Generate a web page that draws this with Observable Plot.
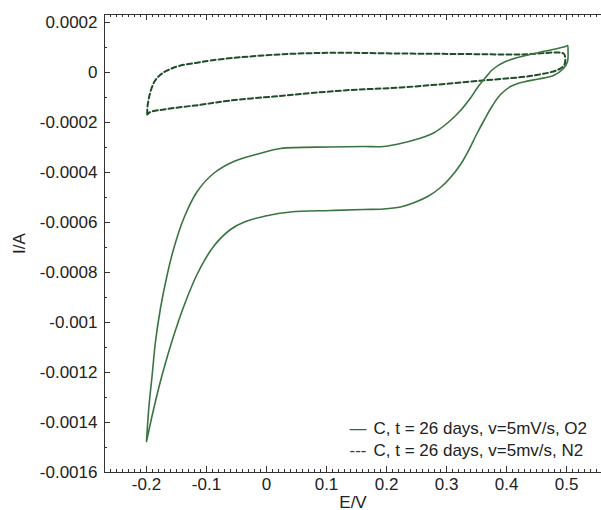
<!DOCTYPE html>
<html><head><meta charset="utf-8">
<script src="https://cdn.jsdelivr.net/npm/d3@7"></script>
<script src="https://cdn.jsdelivr.net/npm/@observablehq/plot@0.6"></script>
<style>body{margin:0;background:#fff}</style>
</head><body><div id="chart"></div>
<script>
// O2 cyclic voltammogram (solid)
const O2_E = [-0.2, -0.1962, -0.1905, -0.185, -0.1767, -0.1655, -0.1545, -0.1378, -0.1155, -0.0878, -0.0545, -0.01, 0.0233, 0.1067, 0.1617, 0.195, 0.2233, 0.2517, 0.2783, 0.3017, 0.3233, 0.34, 0.3517, 0.365, 0.3767, 0.3983, 0.4317, 0.465, 0.4983, 0.5017,
  0.5025, 0.5017, 0.495,
  0.4783, 0.4533, 0.4283, 0.4067, 0.39, 0.3767, 0.3633, 0.35, 0.3367, 0.3233, 0.3067, 0.29, 0.27, 0.2467, 0.2233, 0.195, 0.1617, 0.1067, 0.04, -0.0017, -0.035, -0.06, -0.0883, -0.115, -0.1367, -0.1567, -0.1733, -0.1875, -0.2];
const O2_I = [-0.001476, -0.001343, -0.001209, -0.001076, -0.000943, -0.000809, -0.000703, -0.000583, -0.000476, -0.000403, -0.000356, -0.000323, -0.000304, -0.000298, -0.000296, -0.000296, -0.000284, -0.000266, -0.000242, -0.000202, -0.000152, -0.000102, -0.00006, -0.00002, 0.000012, 0.000044, 0.000068, 0.000086, 0.000104, 0.000108,
  0.000084, 0.000044, 0.000016,
  -0.000012, -0.000026, -0.000038, -0.000056, -0.000088, -0.000132, -0.000188, -0.000248, -0.000312, -0.000368, -0.00042, -0.00046, -0.000494, -0.00052, -0.000538, -0.000546, -0.000548, -0.000552, -0.000558, -0.000574, -0.000596, -0.000628, -0.000696, -0.000804, -0.000928, -0.001068, -0.001204, -0.00134, -0.001476];
// N2 cyclic voltammogram (dashed)
const N2_E = [-0.1988, -0.1983, -0.1958, -0.1917, -0.1867, -0.18, -0.1717, -0.16, -0.1433, -0.1183, -0.0933, -0.0433, 0.0117, 0.0678, 0.1233, 0.2233, 0.3233, 0.4233, 0.495,
  0.4975, 0.4967, 0.4867,
  0.445, 0.36, 0.2233, 0.14, 0.0567, 0.0117, -0.06, -0.11, -0.1655, -0.1933, -0.1988];
const N2_I = [-0.000168, -0.000136, -0.0001, -0.000064, -0.000036, -0.000016, 0, 0.000014, 0.000028, 0.000038, 0.000048, 0.000061, 0.000071, 0.000077, 0.000079, 0.000076, 0.000074, 0.000072, 0.000076,
  0.000064, 0.000032, 0.000012,
  -0.000012, -0.000032, -0.00006, -0.00007, -0.000086, -0.000096, -0.000112, -0.000129, -0.000146, -0.000158, -0.000168];

const xTicks = [-0.2, -0.1, 0, 0.1, 0.2, 0.3, 0.4, 0.5];
const yTicks = [0.0002, 0, -0.0002, -0.0004, -0.0006, -0.0008, -0.001, -0.0012, -0.0014, -0.0016];
const xMinor = d3.range(-26, 56).map(d => d / 100);
const yMinor = d3.range(-15, 3).map(d => d / 10000);
const legendLabels = ["C, t = 26 days, v=5mV/s, O2", "C, t = 26 days, v=5mv/s, N2"];
const xDomain = [-0.27, 0.5583];
const yDomain = [-0.0016, 0.000232];

const W = 601, H = 510, mL = 104, mR = 0, mT = 14, mB = 38;
const iw = W - mL - mR, ih = H - mT - mB;
const FS = 17;

const o2 = O2_E.map((e, i) => ({E: e, I: O2_I[i]}));
const n2 = N2_E.map((e, i) => ({E: e, I: N2_I[i]}));
const fmt = d => String(Math.round(d * 1e5) / 1e5);

const chart = Plot.plot({
  width: W, height: H,
  marginLeft: mL, marginRight: mR, marginTop: mT, marginBottom: mB,
  style: {fontFamily: "'Liberation Sans', Arial, sans-serif", fontSize: FS + "px", color: "#222", background: "#fff"},
  x: {domain: xDomain, axis: null},
  y: {domain: yDomain, axis: null},
  marks: [
    Plot.ruleY([yDomain[0]], {stroke: "#333", strokeWidth: 1}),
    Plot.ruleY([yDomain[1]], {stroke: "#333", strokeWidth: 1}),
    Plot.ruleX([xDomain[0]], {stroke: "#333", strokeWidth: 1}),
    // inward ticks
    Plot.tickX(xTicks, {x: d => d, insetTop: ih - 6, stroke: "#333"}),
    Plot.tickX(xMinor, {x: d => d, insetTop: ih - 3, stroke: "#333"}),
    Plot.tickX(xTicks, {x: d => d, insetBottom: ih - 6, stroke: "#333"}),
    Plot.tickX(xMinor, {x: d => d, insetBottom: ih - 3, stroke: "#333"}),
    Plot.tickY(yTicks, {y: d => d, insetRight: iw - 6, stroke: "#333"}),
    Plot.tickY(yMinor, {y: d => d, insetRight: iw - 3, stroke: "#333"}),
    Plot.axisX({anchor: "bottom", ticks: xTicks, tickSize: 0, tickPadding: 5, tickFormat: fmt, fontSize: FS, label: "E/V", labelAnchor: "center", labelArrow: "none", labelOffset: 35, fill: "#222"}),
    Plot.axisY({anchor: "left", ticks: yTicks, tickSize: 0, tickPadding: 7, tickFormat: fmt, fontSize: FS, label: "I/A", labelAnchor: "center", labelArrow: "none", labelOffset: 92, fill: "#222"}),
    Plot.line(n2, {x: "E", y: "I", curve: "catmull-rom", stroke: "#1f4d28", strokeWidth: 2, strokeDasharray: "5,3"}),
    Plot.line(o2, {x: "E", y: "I", curve: "catmull-rom", stroke: "#3a7441", strokeWidth: 1.6}),
    Plot.text(["—"], {frameAnchor: "bottom-right", textAnchor: "start", dx: -252, dy: -44, lineAnchor: "middle", fill: "#2e6b36", fontSize: FS}),
    Plot.text(["---"], {frameAnchor: "bottom-right", textAnchor: "start", dx: -252, dy: -22, lineAnchor: "middle", fill: "#1f4d28", fontSize: FS}),
    Plot.text([legendLabels[0]], {frameAnchor: "bottom-right", textAnchor: "start", dx: -228, dy: -44, lineAnchor: "middle", fill: "#222", fontSize: FS}),
    Plot.text([legendLabels[1]], {frameAnchor: "bottom-right", textAnchor: "start", dx: -228, dy: -22, lineAnchor: "middle", fill: "#222", fontSize: FS})
  ]
});
document.getElementById("chart").appendChild(chart);
</script></body></html>
